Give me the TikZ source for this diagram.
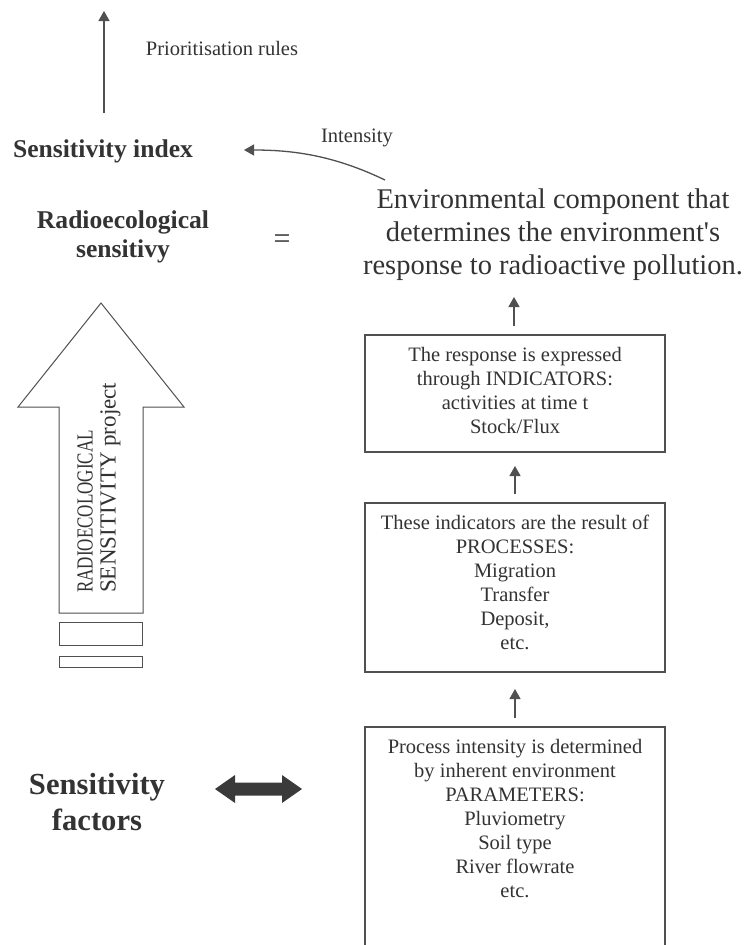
\documentclass[tikz,border=0pt]{standalone}
\usepackage{fontspec}
\setmainfont{Liberation Serif}
\usetikzlibrary{arrows.meta}
\definecolor{ink}{HTML}{333333}
\definecolor{edge}{HTML}{505050}
\definecolor{fillarrow}{HTML}{3A3A3A}
\begin{document}
\begin{tikzpicture}[x=1pt,y=-1pt,
  txt/.style={text=ink, align=center, inner sep=0pt, font=\fontsize{20.5}{24}\selectfont},
  bigtxt/.style={text=ink, align=center, inner sep=0pt, font=\fontsize{28.5}{33}\selectfont},
  boldtxt/.style={text=ink, align=center, inner sep=0pt, font=\bfseries\fontsize{25.6}{29.5}\selectfont},
  hugebold/.style={text=ink, align=center, inner sep=0pt, font=\bfseries\fontsize{30.6}{36.5}\selectfont},
  boxshape/.style={draw=edge, line width=1.2pt, inner sep=0pt},
  arr/.style={draw=edge, line width=1.3pt, -{Triangle[length=10pt,width=11pt]}},
  outline/.style={draw=edge, line width=1pt}
]
\useasboundingbox (0,0) rectangle (744,945);

% top labels
\node[boldtxt] (sidx) at (103,151) {Sensitivity index};
\node[txt] (prio) at (222,48) {Prioritisation rules};
\coordinate (topS) at (104,113);
\coordinate (topE) at (104,11);
\draw[arr] (topS) -- (topE);

\node[txt] (inten) at (357,138) {Intensity};
\coordinate (intS) at (385,180);
\coordinate (intE) at (244,150);
\draw[arr] (intS) .. controls (335,156) and (295,150) .. (intE);

\node[boldtxt] (radio) at (123,237) {Radioecological\\sensitivy};
\node[txt, font=\fontsize{30}{30}\selectfont] (eq) at (282,242) {=};
\node[bigtxt] (env) at (553,235) {Environmental component that\\determines the environment\textquotesingle s\\response to radioactive pollution.};

% right boxes
\node[boxshape, minimum width=300pt, minimum height=117pt] (b1) at (515,393.5) {};
\node[txt] (t1) at (515,390) {The response is expressed\\through INDICATORS:\\activities at time t\\Stock/Flux};

\node[boxshape, minimum width=300pt, minimum height=169pt] (b2) at (515,587.5) {};
\node[txt] (t2) at (515,582.5) {These indicators are the result of\\PROCESSES:\\Migration\\Transfer\\Deposit,\\etc.};

\draw[edge, line width=1.2pt] (365,946) -- (365,727) -- (665,727) -- (665,946);
\coordinate (b3n) at (515,727);
\node[txt] (t3) at (515,818.5) {Process intensity is determined\\by inherent environment\\PARAMETERS:\\Pluviometry\\Soil type\\River flowrate\\etc.};

\coordinate (a1s) at (514,326);
\coordinate (a1e) at (514,297);
\draw[arr] (a1s) -- (a1e);
\coordinate (a2s) at (515,494);
\coordinate (a2e) at (515,466);
\draw[arr] (a2s) -- (a2e);
\coordinate (a3s) at (515,718);
\coordinate (a3e) at (515,689);
\draw[arr] (a3s) -- (a3e);

% big hollow arrow
\draw[outline, fill=white] (59,613) -- (59,407) -- (18,407) -- (101,303) -- (184,407) -- (143,407) -- (143,613) -- cycle;
\node[txt, rotate=90, anchor=west, align=left, font=\fontsize{23}{23}\selectfont] (proj) at (99,593) {\scalebox{0.74}[1]{RADIOECOLOGICAL}\\SENSITIVITY project};
\node[outline, minimum width=83pt, minimum height=23pt, inner sep=0pt] (r1) at (100.5,633.5) {};
\node[outline, minimum width=83pt, minimum height=11pt, inner sep=0pt] (r2) at (100.5,662) {};

% sensitivity factors
\node[hugebold] (sf) at (97,802) {Sensitivity\\factors};
\fill[fillarrow] (215,789) -- (235,775) -- (235,782.5) -- (282,782.5) -- (282,775) -- (302,789) -- (282,803) -- (282,795.5) -- (235,795.5) -- (235,803) -- cycle;
\end{tikzpicture}
\end{document}
